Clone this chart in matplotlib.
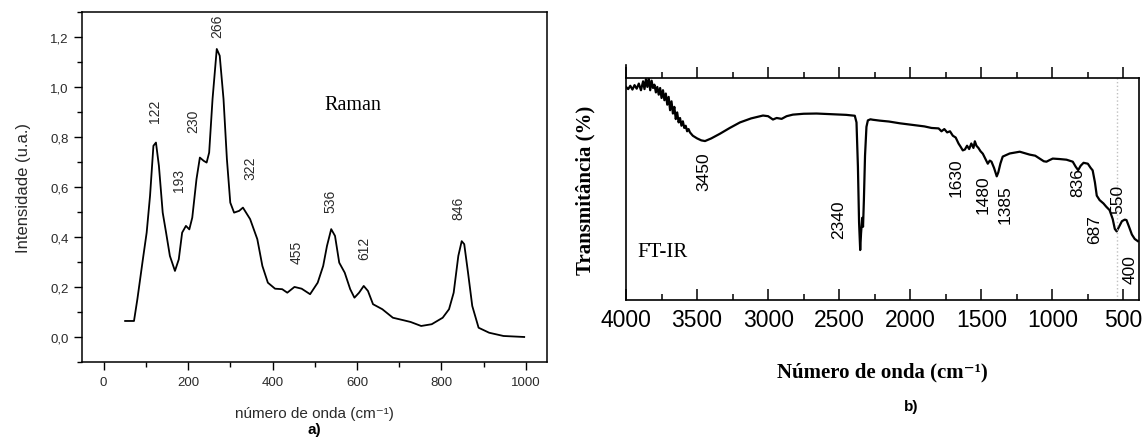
import matplotlib
matplotlib.use('Agg')
import matplotlib.pyplot as plt
from matplotlib.ticker import MultipleLocator, FuncFormatter

# ---- Raman spectrum (a) ----
raman_x = [51, 72, 80, 93, 102, 110, 118, 124, 131, 140, 148, 157, 169, 178, 186, 195, 203, 210,
           220, 228, 237, 244, 250, 258, 268, 275, 284, 292, 300, 309, 321, 330, 347, 364, 376,
           389, 406, 423, 435, 452, 469, 489, 507, 520, 529, 539, 548, 558, 571, 584, 594, 605,
           616, 626, 638, 660, 685, 710, 727, 752, 777, 803, 818, 829, 840, 848, 854, 863, 873,
           888, 913, 947, 996]
raman_y = [0.064, 0.064, 0.151, 0.31, 0.417, 0.564, 0.764, 0.777, 0.684, 0.497, 0.417, 0.324,
           0.264, 0.31, 0.417, 0.444, 0.43, 0.477, 0.631, 0.717, 0.704, 0.697, 0.737, 0.951,
           1.151, 1.124, 0.951, 0.711, 0.537, 0.497, 0.504, 0.517, 0.471, 0.391, 0.284, 0.217,
           0.193, 0.191, 0.177, 0.2, 0.193, 0.171, 0.217, 0.284, 0.364, 0.431, 0.404, 0.297,
           0.257, 0.191, 0.157, 0.177, 0.204, 0.184, 0.131, 0.111, 0.077, 0.067, 0.06, 0.044,
           0.051, 0.077, 0.111, 0.177, 0.324, 0.383, 0.371, 0.257, 0.124, 0.037, 0.017, 0.004,
           0.0]
raman_labels = ['122', '193', '230', '266', '322', '455', '536', '612', '846']
raman_label_x = [121, 178, 212, 268, 347, 457, 537, 617, 841]
raman_label_y = [0.904, 0.631, 0.864, 1.244, 0.679, 0.344, 0.544, 0.358, 0.518]

# ---- FT-IR spectrum (b) ----
ir_x = [4000, 3985, 3970, 3955, 3940, 3925, 3910, 3895, 3880, 3870, 3860, 3850, 3840, 3830,
        3820, 3810, 3800, 3790, 3780, 3770, 3760, 3750, 3740, 3730, 3720, 3710, 3700, 3690,
        3680, 3670, 3660, 3650, 3640, 3630, 3620, 3610, 3600, 3590, 3580, 3570, 3560, 3550,
        3530, 3500, 3470, 3444, 3400, 3339, 3270, 3198, 3120, 3036, 3000, 2966, 2940, 2905,
        2870, 2826, 2750, 2659, 2550, 2450, 2390, 2378, 2368, 2360, 2352, 2346, 2338, 2332,
        2326, 2318, 2308, 2298, 2280, 2263, 2214, 2150, 2073, 2000, 1900, 1850, 1800, 1780,
        1760, 1740, 1720, 1700, 1680, 1660, 1645, 1630, 1615, 1600, 1585, 1570, 1555, 1545,
        1534, 1520, 1505, 1489, 1470, 1454, 1440, 1428, 1410, 1391, 1380, 1365, 1349, 1300,
        1229, 1160, 1120, 1089, 1060, 1041, 1020, 997, 950, 900, 856, 835, 818, 800, 780, 750,
        730, 716, 700, 687, 667, 640, 620, 597, 575, 560, 547, 530, 510, 490, 478, 460, 440,
        420, 398]
ir_t = [96.0, 95.0, 96.5, 94.8, 96.8, 95.2, 97.5, 94.5, 98.5, 95.0, 99.5, 96.0, 100.0, 94.5,
        98.8, 95.5, 97.0, 93.5, 96.0, 92.5, 95.5, 91.0, 94.5, 90.0, 93.0, 88.0, 91.5, 85.5,
        89.5, 84.0, 87.0, 81.5, 84.5, 80.0, 82.0, 78.5, 80.5, 77.5, 78.5, 76.0, 77.0, 75.5,
        74.0, 72.8, 71.9, 71.6, 72.8, 74.9, 77.5, 80.0, 81.8, 83.1, 82.8, 81.3, 82.0, 81.6,
        82.8, 83.5, 83.9, 84.0, 83.7, 83.4, 83.0, 80.0, 60.0, 35.0, 22.5, 30.0, 37.0, 33.0,
        45.0, 65.0, 78.0, 80.9, 81.4, 81.2, 80.8, 80.4, 79.6, 79.0, 78.2, 77.5, 77.3, 76.0,
        77.0, 75.5, 76.0, 74.0, 73.2, 70.5, 69.0, 67.4, 67.8, 69.5, 68.0, 70.5, 68.5, 71.5,
        69.5, 68.5, 67.0, 65.9, 63.5, 61.4, 62.8, 62.3, 59.5, 55.7, 57.5, 61.5, 64.6, 66.0,
        66.8, 65.5, 65.0, 63.7, 62.5, 62.3, 63.0, 63.7, 63.5, 63.2, 62.3, 60.0, 58.5, 60.5,
        61.8, 61.4, 59.5, 58.4, 53.0, 47.0, 45.0, 43.5, 42.0, 40.5, 36.5, 32.0, 30.9, 33.0,
        35.5, 36.2, 36.0, 33.0, 29.5, 27.5, 26.5]
ir_labels = ['3450', '2340', '1630', '1480', '1385', '836', '687', '550', '400']
ir_label_x = [3451, 2502, 1680, 1490, 1331, 820, 700, 540, 455]
ir_label_t = [58.4, 36.8, 55.6, 48.0, 43.5, 53.4, 32.3, 45.7, 14.3]

sans = ['Liberation Sans', 'DejaVu Sans']
serif = ['Liberation Serif', 'DejaVu Serif']
txt = '#2a2a2a'

fig = plt.figure(figsize=(11.47, 4.39), dpi=100)

# ---------------- panel a) ----------------
ax1 = fig.add_axes([0.0719, 0.1731, 0.405, 0.798])
ax1.plot(raman_x, raman_y, color='black', lw=1.3)
ax1.set_xlim(-50, 1050)
ax1.set_ylim(-0.1, 1.3)
ax1.xaxis.set_major_locator(MultipleLocator(200))
ax1.xaxis.set_minor_locator(MultipleLocator(100))
ax1.yaxis.set_major_locator(MultipleLocator(0.2))
ax1.yaxis.set_minor_locator(MultipleLocator(0.1))
ax1.yaxis.set_major_formatter(FuncFormatter(lambda v, p: ('%.1f' % v).replace('.', ',')))
ax1.tick_params(which='major', direction='out', length=6, width=1.0, pad=4,
                labelsize=9.5, labelcolor=txt)
ax1.tick_params(which='minor', direction='out', length=3.5, width=1.0)
for lab in ax1.get_xticklabels() + ax1.get_yticklabels():
    lab.set_family(sans)
for sp in ax1.spines.values():
    sp.set_linewidth(1.1)
ax1.set_ylabel('Intensidade (u.a.)', fontsize=12, family=sans, color=txt, labelpad=14)
ax1.set_xlabel('número de onda (cm⁻¹)', fontsize=11, family=sans, color=txt, labelpad=13)
ax1.text(0.5, -0.19, 'a)', transform=ax1.transAxes, ha='center', va='center',
         fontsize=11, fontweight='bold', family=sans)
ax1.text(590, 0.93, 'Raman', fontsize=14.5, family=serif, ha='center', va='center')
for s, x, y in zip(raman_labels, raman_label_x, raman_label_y):
    ax1.text(x, y, s, rotation=90, ha='center', va='center', fontsize=10,
             family=sans, color=txt)

# ---------------- panel b) ----------------
ax2 = fig.add_axes([0.5458, 0.3144, 0.4472, 0.5056])
ax2.plot(ir_x, ir_t, color='black', lw=1.6)
ax2.axvline(545, color='#c0c0c0', lw=1.0, ls=':')
ax2.set_xlim(4000, 390)
ax2.set_ylim(0, 100)
ax2.set_yticks([])
ax2.xaxis.set_major_locator(MultipleLocator(500))
ax2.xaxis.set_minor_locator(MultipleLocator(250))
ax2.tick_params(axis='x', which='major', direction='in', length=8, width=1.1,
                top=True, labelsize=16.5, pad=6)
ax2.tick_params(axis='x', which='minor', direction='in', length=4.5, width=1.1, top=True)
for t in ax2.xaxis.get_major_ticks() + ax2.xaxis.get_minor_ticks():
    t.tick2line.set_marker(2)
for lab in ax2.get_xticklabels():
    lab.set_family(sans)
for sp in ax2.spines.values():
    sp.set_linewidth(1.2)
ax2.plot([0, 0], [1, 1.06], transform=ax2.transAxes, color='black', lw=1.2, clip_on=False)
ax2.set_ylabel('Transmitância (%)', fontsize=15, fontweight='bold', family=serif,
               labelpad=22)
ax2.set_xlabel('Número de onda (cm⁻¹)', fontsize=15, fontweight='bold', family=serif,
               labelpad=22)
ax2.text(0.556, -0.478, 'b)', transform=ax2.transAxes, ha='center', va='center',
         fontsize=11, fontweight='bold', family=sans)
ax2.text(0.022, 0.22, 'FT-IR', transform=ax2.transAxes, fontsize=15, family=serif,
         ha='left', va='center')
for s, x, t in zip(ir_labels, ir_label_x, ir_label_t):
    ax2.text(x, t, s, rotation=90, ha='center', va='center', fontsize=12.5, family=sans)

fig.savefig('out.png', dpi=100)
